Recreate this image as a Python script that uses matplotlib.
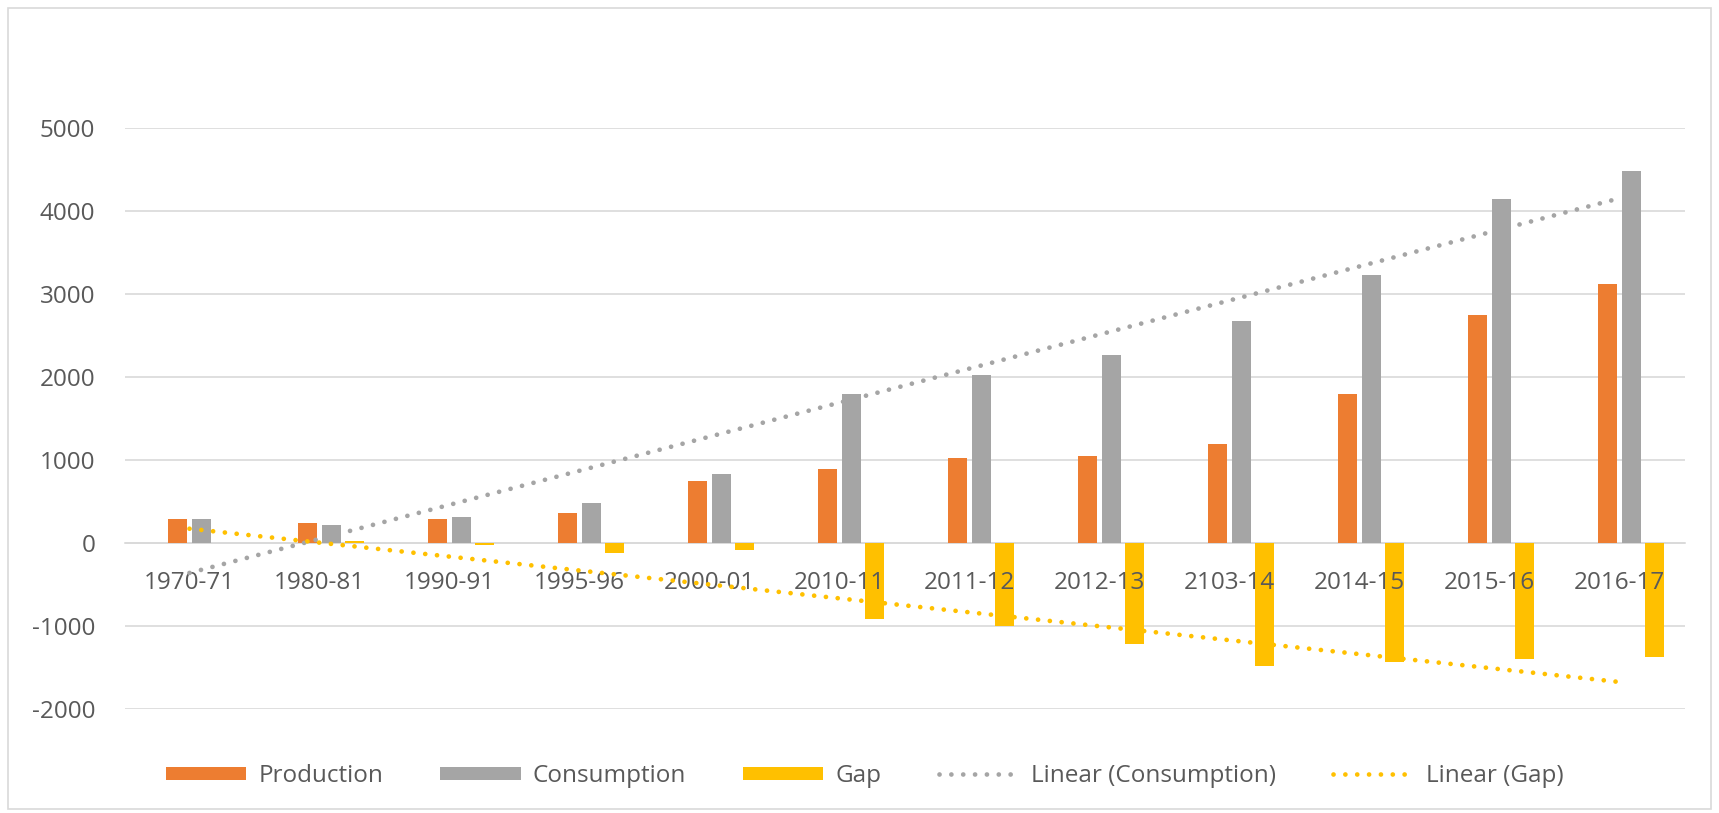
import numpy as np
import matplotlib
matplotlib.use("Agg")
import matplotlib.pyplot as plt
from matplotlib.patches import Rectangle

# Production / consumption per year and the resulting gap
years = ["1970-71", "1980-81", "1990-91", "1995-96", "2000-01", "2010-11",
         "2011-12", "2012-13", "2103-14", "2014-15", "2015-16", "2016-17"]
production = [292, 240, 292, 360, 747, 888, 1024, 1048, 1193, 1794, 2747, 3116]
consumption = [292, 220, 312, 476, 835, 1799, 2028, 2261, 2674, 3232, 4142, 4485]
gap = [0, 20, -20, -116, -88, -911, -1004, -1213, -1481, -1438, -1395, -1369]

c_prod = "#ED7D31"
c_cons = "#A5A5A5"
c_gap = "#FFC000"
c_text = "#595959"
c_grid = "#D9D9D9"

plt.rcParams['font.family'] = ['Open Sans', 'DejaVu Sans']
plt.rcParams['axes.unicode_minus'] = False
fs = 17.5

fig = plt.figure(figsize=(17.19, 8.13), dpi=100)
ax = fig.add_axes([124.5/1719, 1 - 709/813, (1684.5 - 124.5)/1719, (709 - 128)/813])

x = np.arange(len(years))
w = 0.145
step = 0.18
b1 = ax.bar(x - 0.5*step, production, w, color=c_prod, label="Production", zorder=2)
b2 = ax.bar(x + 0.5*step, consumption, w, color=c_cons, label="Consumption", zorder=2)
b3 = ax.bar(x + 1.5*step, gap, w, color=c_gap, label="Gap", zorder=2)

# Linear trendlines (least squares over category index)
xi = x + 1
k1, c1 = np.polyfit(xi, consumption, 1)
k2, c2 = np.polyfit(xi, gap, 1)
dots = (0, (0.01, 2.5))
l1, = ax.plot(x, k1 * xi + c1, color=c_cons, lw=3.4, linestyle=dots,
              dash_capstyle="round", label="Linear (Consumption)", zorder=5)
l2, = ax.plot(x, k2 * xi + c2, color=c_gap, lw=3.4, linestyle=dots,
              dash_capstyle="round", label="Linear (Gap)", zorder=5)

ax.set_xlim(-0.5, len(years) - 0.5)
ax.set_ylim(-2000, 5000)
yt = list(range(-2000, 5001, 1000))
ax.set_yticks(yt)
for v in yt:
    ax.axhline(v, color=c_grid, lw=1.2, zorder=0)

for s in ["top", "right", "left"]:
    ax.spines[s].set_visible(False)
ax.spines["bottom"].set_position(("data", 0))
ax.spines["bottom"].set_color(c_grid)
ax.spines["bottom"].set_linewidth(1.2)
ax.spines["bottom"].set_zorder(1)

# category labels sit on top of the bars
ax.xaxis.set_zorder(4)

ax.set_xticks(x)
ax.set_xticklabels(years)
ax.tick_params(axis="x", length=0, pad=20, labelsize=fs, labelcolor=c_text)
ax.tick_params(axis="y", length=0, pad=21, labelsize=fs, labelcolor=c_text)

leg = fig.legend([b1, b2, b3, l1, l2],
                 ["Production", "Consumption", "Gap", "Linear (Consumption)", "Linear (Gap)"],
                 loc="center", bbox_to_anchor=(0.503, 1 - 776/813), ncol=5,
                 frameon=False, fontsize=fs, handlelength=3.3, handleheight=0.45,
                 columnspacing=2.35, handletextpad=0.5)
for t in leg.get_texts():
    t.set_color(c_text)

# light frame around the whole chart
fig.patches.append(Rectangle((8/1719, 4/813), 1 - 16/1719, 1 - 12/813,
                             transform=fig.transFigure, fill=False,
                             edgecolor="#D9D9D9", lw=1.2))

fig.savefig("out.png", dpi=100)
